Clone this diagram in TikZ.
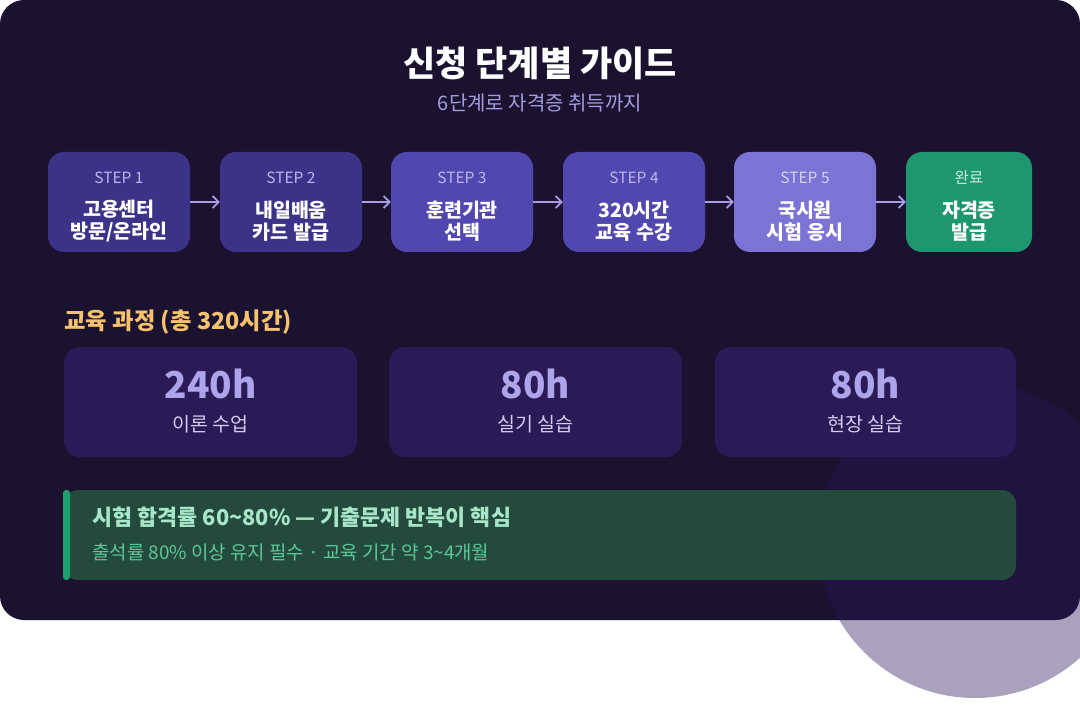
\documentclass[tikz,border=0pt]{standalone}
\usepackage{fontspec}
\setmainfont{Noto Sans CJK KR}
\usetikzlibrary{arrows.meta}

\definecolor{cardbg}{HTML}{1B1230}
\definecolor{stepA}{HTML}{3C3389}
\definecolor{stepB}{HTML}{5048AE}
\definecolor{stepC}{HTML}{7C74D5}
\definecolor{stepok}{HTML}{1E9670}
\definecolor{steplbl}{HTML}{BDB5EE}
\definecolor{oklbl}{HTML}{CDEFDF}
\definecolor{arrowc}{HTML}{A99DE6}
\definecolor{subc}{HTML}{A49CE0}
\definecolor{orangec}{HTML}{F6C26E}
\definecolor{edubg}{HTML}{2A1A55}
\definecolor{hourc}{HTML}{ADA4EA}
\definecolor{edulbl}{HTML}{D2CBF2}
\definecolor{notebg}{HTML}{244A3E}
\definecolor{noteacc}{HTML}{1E9E6E}
\definecolor{notehd}{HTML}{A8E6CA}
\definecolor{notetx}{HTML}{5CC89A}
\definecolor{circc}{HTML}{2A165A}

\newcommand{\fs}[2]{\fontsize{#1}{#2}\selectfont}

\tikzset{
  stepbox/.style={rounded corners=16pt, minimum width=142pt, minimum height=100pt, inner sep=0pt},
  steptag/.style={text=steplbl, font=\fs{15.5}{18}},
  stepname/.style={text=white, font=\fs{19.5}{22}\bfseries, align=center},
  flow/.style={draw=arrowc, line width=1.8pt, -{Straight Barb[length=6pt,width=12pt,line width=1.8pt]}},
  edubox/.style={fill=edubg, rounded corners=16pt, minimum width=293pt, minimum height=110pt, inner sep=0pt},
  hours/.style={text=hourc, font=\fs{37}{44}\bfseries},
  hourname/.style={text=edulbl, font=\fs{19.5}{23}},
}

\begin{document}
\begin{tikzpicture}[x=1pt, y=-1pt]
    \useasboundingbox (0,0) rectangle (1080,714);
    % fondo
    \fill[cardbg, rounded corners=24pt] (0,0) rectangle (1080,620);
    \fill[circc, opacity=0.4] (975,541) circle (157);
    % titulo
    \node[text=white, font=\fs{35}{42}\bfseries] (title) at (540,63) {신청 단계별 가이드};
    \node[text=subc, font=\fs{20}{24}] (subtitle) at (540,103) {6단계로 자격증 취득까지};
    % pasos
    \node[stepbox, fill=stepA] (s1) at (119,202) {};
    \node[stepbox, fill=stepA] (s2) at (291,202) {};
    \node[stepbox, fill=stepB] (s3) at (462,202) {};
    \node[stepbox, fill=stepB] (s4) at (634,202) {};
    \node[stepbox, fill=stepC] (s5) at (805,202) {};
    \node[stepbox, fill=stepok, minimum width=126pt] (s6) at (969,202) {};
    \node[steptag] (t1) at (119,178) {STEP 1};
    \node[steptag] (t2) at (291,178) {STEP 2};
    \node[steptag] (t3) at (462,178) {STEP 3};
    \node[steptag] (t4) at (634,178) {STEP 4};
    \node[steptag, text=steplbl!60!white] (t5) at (805,178) {STEP 5};
    \node[steptag, text=oklbl] (t6) at (969,178) {완료};
    \node[stepname] (n1) at (119,221) {고용센터\\방문/온라인};
    \node[stepname] (n2) at (291,221) {내일배움\\카드 발급};
    \node[stepname] (n3) at (462,221) {훈련기관\\선택};
    \node[stepname] (n4) at (634,221) {320시간\\교육 수강};
    \node[stepname] (n5) at (805,221) {국시원\\시험 응시};
    \node[stepname] (n6) at (969,221) {자격증\\발급};
    \draw[flow] (s1.east) -- (s2.west);
    \draw[flow] (s2.east) -- (s3.west);
    \draw[flow] (s3.east) -- (s4.west);
    \draw[flow] (s4.east) -- (s5.west);
    \draw[flow] (s5.east) -- (s6.west);
    % curso
    \node[anchor=west, text=orangec, font=\fs{23.3}{27}\bfseries] (course) at (61,322) {교육 과정 (총 320시간)};
    \node[edubox] (e1) at (210.5,402) {};
    \node[edubox] (e2) at (535.5,402) {};
    \node[edubox, minimum width=301pt] (e3) at (865.5,402) {};
    \node[hours] (h1) at (210.5,384) {240h};
    \node[hours] (h2) at (535.5,384) {80h};
    \node[hours] (h3) at (865.5,384) {80h};
    \node[hourname] (l1) at (210.5,424) {이론 수업};
    \node[hourname] (l2) at (535.5,424) {실기 실습};
    \node[hourname] (l3) at (865.5,424) {현장 실습};
    % nota
    \fill[notebg, rounded corners=14pt] (64,490) rectangle (1016,580);
    \fill[noteacc, rounded corners=3pt] (63,490) rectangle (70,580);
    \node[anchor=west, text=notehd, font=\fs{21.8}{26}\bfseries] (nh) at (89,517) {시험 합격률 60\textasciitilde80\% — 기출문제 반복이 핵심};
    \node[anchor=west, text=notetx, font=\fs{18.9}{23}] (nt) at (89,552) {출석률 80\% 이상 유지 필수 · 교육 기간 약 3\textasciitilde4개월};
\end{tikzpicture}
\end{document}
